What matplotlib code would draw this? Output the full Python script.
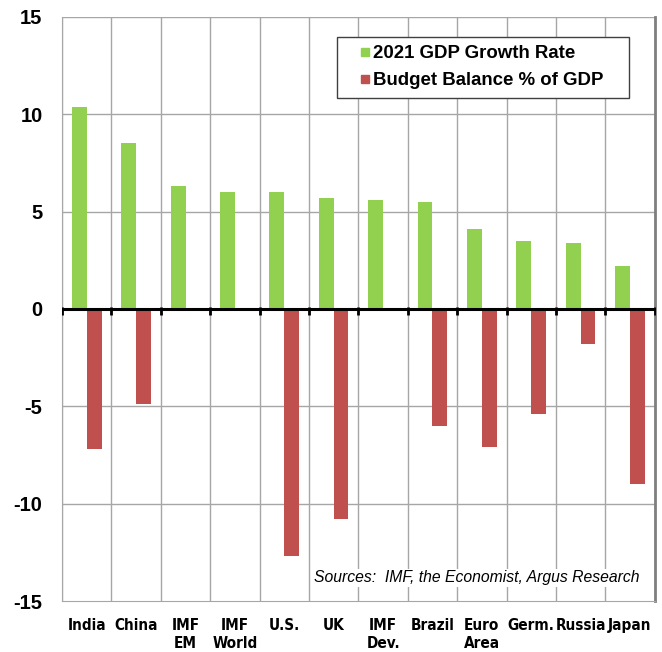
import numpy as np
import matplotlib.pyplot as plt
from matplotlib.lines import Line2D

countries = ["India", "China", "IMF\nEM", "IMF\nWorld", "U.S.", "UK", "IMF\nDev.",
             "Brazil", "Euro\nArea", "Germ.", "Russia", "Japan"]
gdp_growth = [10.4, 8.5, 6.3, 6.0, 6.0, 5.7, 5.6, 5.5, 4.1, 3.5, 3.4, 2.2]
budget_balance = [-7.2, -4.9, 0, 0, -12.7, -10.8, 0, -6.0, -7.1, -5.4, -1.8, -9.0]

green = "#92d050"
red = "#c0504d"

fig = plt.figure(figsize=(6.62, 6.52), dpi=100)
ax = fig.add_axes([0.0937, 0.0782, 0.8953, 0.8958])

x = np.arange(len(countries))
w = 0.3
ax.bar(x - w / 2, gdp_growth, w, color=green, zorder=3)
ax.bar(x + w / 2, budget_balance, w, color=red, zorder=3)

ax.set_xlim(-0.5, len(countries) - 0.5)
ax.set_ylim(-15, 15)
ax.set_yticks([-15, -10, -5, 0, 5, 10, 15])
ax.set_yticklabels(["-15", "-10", "-5", "0", "5", "10", "15"],
                   fontsize=14.5, fontweight="bold", family=["Liberation Sans", "DejaVu Sans"])
ax.tick_params(axis="y", length=0, pad=14)

# category boundaries as vertical grid
for b in np.arange(-0.5, len(countries) - 0.4, 1):
    ax.axvline(b, color="#a6a6a6", lw=1, zorder=1)
for yv in [-10, -5, 5, 10, 15]:
    ax.axhline(yv, color="#a6a6a6", lw=1, zorder=1)

# zero axis with ticks
ax.axhline(0, color="black", lw=2.2, zorder=4)
ax.plot(np.arange(-0.5, len(countries), 1), np.zeros(len(countries) + 1) - 0.12, ls="none",
        marker="|", ms=6, mew=2, color="black", zorder=4)

ax.set_xticks(x)
ax.set_xticklabels(countries, fontsize=11, fontweight="bold", va="top", linespacing=1.25,
                   family="DejaVu Sans", fontstretch="condensed")
ax.tick_params(axis="x", length=0, pad=12)

for s in ["left", "bottom", "top"]:
    ax.spines[s].set_color("#a6a6a6")
ax.spines["top"].set_visible(False)
ax.spines["right"].set_color("#7f7f7f")
ax.spines["right"].set_linewidth(2)

handles = [Line2D([], [], ls="none", marker="s", ms=5.8, color=green, label="2021 GDP Growth Rate"),
           Line2D([], [], ls="none", marker="s", ms=5.8, color=red, label="Budget Balance % of GDP")]
leg = ax.legend(handles=handles, loc="upper left", mode="expand",
                bbox_to_anchor=(0.4637, 0.863, 0.4924, 0.1028),
                prop={"size": 13.4, "weight": "bold", "family": "Liberation Sans"},
                handlelength=2.1, handletextpad=-0.62,
                fancybox=False, edgecolor="#404040", framealpha=1, borderpad=0.45,
                borderaxespad=0, labelspacing=0.53)
leg.get_frame().set_linewidth(1)
leg.set_zorder(5)

ax.text(0.975, 0.027, "Sources:  IMF, the Economist, Argus Research", transform=ax.transAxes,
        ha="right", va="bottom", fontsize=11.3, style="italic",
        family=["Liberation Sans", "DejaVu Sans"], zorder=5,
        bbox=dict(facecolor="white", edgecolor="none", pad=1))

fig.savefig("out.png", dpi=100)
